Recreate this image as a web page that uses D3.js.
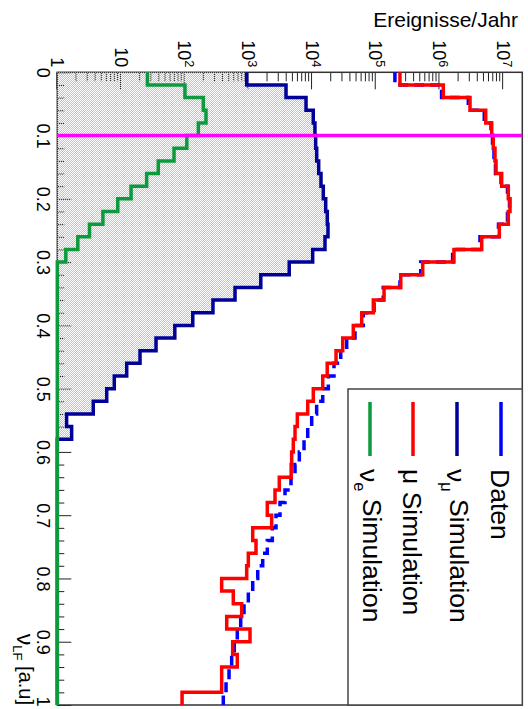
<!DOCTYPE html>
<html>
<head>
<meta charset="utf-8">
<script src="https://cdn.jsdelivr.net/npm/d3@7"></script>
<style>
  html, body { margin: 0; padding: 0; background: #fff; }
  svg { display: block; }
  text { font-family: "Liberation Sans", Arial, Helvetica, sans-serif; fill: #000; }
</style>
</head>
<body>
<svg id="chart" width="528" height="709"></svg>
<script>
// Bin edges of the v_LF histograms (50 bins of width 0.02)
const vlfEdges = [0.00, 0.02, 0.04, 0.06, 0.08, 0.10, 0.12, 0.14, 0.16, 0.18,
                  0.20, 0.22, 0.24, 0.26, 0.28, 0.30, 0.32, 0.34, 0.36, 0.38,
                  0.40, 0.42, 0.44, 0.46, 0.48, 0.50, 0.52, 0.54, 0.56, 0.58,
                  0.60, 0.62, 0.64, 0.66, 0.68, 0.70, 0.72, 0.74, 0.76, 0.78,
                  0.80, 0.82, 0.84, 0.86, 0.88, 0.90, 0.92, 0.94, 0.96, 0.98, 1.00];

// Events per year in each bin
const daten = [2.00e5, 1.08e6, 2.84e6, 5.06e6, 6.45e6, 6.81e6, 7.19e6, 7.59e6, 9.27e6, 1.17e7,
               1.26e7, 1.17e7, 8.46e6, 4.33e6, 1.61e6, 5.08e5, 2.40e5, 1.31e5, 9.40e4, 6.38e4,
               4.72e4, 3.50e4, 2.82e4, 2.21e4, 1.80e4, 1.47e4, 1.18e4, 9870, 8550, 7480,
               6310, 5400, 4670, 3760, 3140, 2715, 2377, 1983, 1679, 1402,
               1170, 998, 854, 758, 670, 601, 547, 497, 446, 404];

const numuSim = [941, 3900, 8040, 10450, 11100, 11400, 11830, 12710, 13810, 15020,
                 16380, 17350, 17790, 15960, 10230, 4380, 1567, 617, 278, 134,
                 70, 35.5, 19.9, 12.3, 7.85, 5.97, 3.67, 1.4, 1.68, 0,
                 0, 0, 0, 0, 0, 0, 0, 0, 0, 0,
                 0, 0, 0, 0, 0, 0, 0, 0, 0, 0];

const muSim = [2.40e5, 1.15e6, 3.02e6, 5.33e6, 6.62e6, 7.00e6, 7.45e6, 7.73e6, 9.49e6, 1.205e7,
               1.282e7, 1.205e7, 8.71e6, 4.61e6, 1.69e6, 5.46e5, 2.47e5, 1.35e5, 9.16e4, 6.02e4,
               4.44e4, 3.03e4, 2.38e4, 1.73e4, 1.47e4, 1.046e4, 8550, 5870, 5400, 5075,
               4785, 4700, 3060, 2620, 1983, 2323, 1170, 1318, 998, 941,
               381, 580, 785, 457, 1061, 567, 670, 381, 381, 91];

const nueSim = [26, 101, 196, 216, 164, 108, 68, 38.5, 25.3, 14.4,
                8.9, 5.2, 3.2, 2.1, 1.36, 0, 0, 0, 0, 0,
                0, 0, 0, 0, 0, 0, 0, 0, 0, 0,
                0, 0, 0, 0, 0, 0, 0, 0, 0, 0,
                0, 0, 0, 0, 0, 0, 0, 0, 0, 0];

const cutValue = 0.1;

// Axis ticks and labels
const xMajorTicks = [0, 0.1, 0.2, 0.3, 0.4, 0.5, 0.6, 0.7, 0.8, 0.9, 1];
const xTickLabels = ["0", "0.1", "0.2", "0.3", "0.4", "0.5", "0.6", "0.7", "0.8", "0.9", "1"];
const yMajorTicks = [1, 1e1, 1e2, 1e3, 1e4, 1e5, 1e6, 1e7];
const yTickBase = ["1", "10", "10", "10", "10", "10", "10", "10"];
const yTickExp  = ["", "", "2", "3", "4", "5", "6", "7"];

const legendEntries = [
  { name: "Daten", sub: "", rest: "", color: "#0000ff" },
  { name: "\u03bd", sub: "\u03bc", rest: " Simulation", color: "#000099" },
  { name: "\u03bc Simulation", sub: "", rest: "", color: "#ff0000" },
  { name: "\u03bd", sub: "e", rest: " Simulation", color: "#0d9a3c" }
];

// ---- drawing ----
const W = 528;
const frame = { u0: 72.3, u1: 705, v0: 5.7, v1: 470.7 };

const svg = d3.select("#chart");
const defs = svg.append("defs");
const pat = defs.append("pattern").attr("id", "dots")
  .attr("patternUnits", "userSpaceOnUse").attr("width", 2).attr("height", 2);
pat.append("rect").attr("x", 0).attr("y", 0).attr("width", 1).attr("height", 1).attr("fill", "#c2c2c2");
pat.append("rect").attr("x", 1).attr("y", 1).attr("width", 1).attr("height", 1).attr("fill", "#c2c2c2");

// The plot is laid out landscape and turned a quarter turn clockwise.
const g = svg.append("g").attr("transform", `translate(${W},0) rotate(90)`);

const x = d3.scaleLinear().domain([0, 1]).range([frame.u0, frame.u1]);
const y = d3.scaleLog().domain([1, 2e7]).range([frame.v1, frame.v0]);

// minor ticks
const xMinorTicks = vlfEdges.filter((d, i) => i % 5 !== 0);
const yMinorTicks = [];
yMajorTicks.forEach(p => { for (let m = 2; m <= 9; m++) { if (p * m < 2e7) yMinorTicks.push(p * m); } });

const tickColor = "#222";

const xMinor = g.append("g").attr("transform", `translate(0,${frame.v1})`)
  .call(d3.axisBottom(x).tickValues(xMinorTicks).tickSize(-7).tickFormat(""));
const xMajor = g.append("g").attr("transform", `translate(0,${frame.v1})`)
  .call(d3.axisBottom(x).tickValues(xMajorTicks).tickSize(-14).tickPadding(8)
        .tickFormat((d, i) => xTickLabels[i]));
const yMinor = g.append("g").attr("transform", `translate(${frame.u0},0)`)
  .call(d3.axisLeft(y).tickValues(yMinorTicks).tickSize(-9).tickFormat(""));
const yMajor = g.append("g").attr("transform", `translate(${frame.u0},0)`)
  .call(d3.axisLeft(y).tickValues(yMajorTicks).tickSize(-17).tickPadding(5).tickFormat(() => ""));

[xMinor, xMajor, yMinor, yMajor].forEach(a => {
  a.select(".domain").remove();
  a.selectAll(".tick line").attr("stroke", tickColor).attr("stroke-width", 1);
});
xMajor.selectAll(".tick text").attr("font-size", 18).attr("fill", "#000")
  .attr("dx", d => (d === 1 ? -4 : 0));
yMajor.selectAll(".tick text").attr("font-size", 18).attr("fill", "#000")
  .each(function (d, i) {
    const t = d3.select(this);
    t.text(null);
    t.append("tspan").text(yTickBase[i]);
    if (yTickExp[i]) t.append("tspan").attr("dy", "-0.5em").attr("font-size", "0.7em").text(yTickExp[i]);
  });

// frame
g.append("rect")
  .attr("x", frame.u0).attr("y", frame.v0)
  .attr("width", frame.u1 - frame.u0).attr("height", frame.v1 - frame.v0)
  .attr("fill", "none").attr("stroke", "#333").attr("stroke-width", 1.5);

// histogram helpers
function stepPoints(vals) {
  const pts = [];
  vals.forEach((v, i) => {
    const c = Math.max(v, 1);
    pts.push([vlfEdges[i], c], [vlfEdges[i + 1], c]);
  });
  return pts;
}
const histLine = d3.line().x(d => x(d[0])).y(d => y(d[1]));
const histArea = d3.area().x(d => x(d[0])).y0(y(1)).y1(d => y(d[1]));

// nu_mu fill
g.append("path").attr("d", histArea(stepPoints(numuSim))).attr("fill", "url(#dots)");

// Daten (dashed)
g.append("path").attr("d", histLine(stepPoints(daten)))
  .attr("fill", "none").attr("stroke", "#0000ff").attr("stroke-width", 3.5)
  .attr("stroke-dasharray", "10,6");
// mu simulation
g.append("path").attr("d", histLine(stepPoints(muSim)))
  .attr("fill", "none").attr("stroke", "#ff0000").attr("stroke-width", 3.5);
// nu_mu simulation
g.append("path").attr("d", histLine(stepPoints(numuSim)))
  .attr("fill", "none").attr("stroke", "#000099").attr("stroke-width", 3.5);
// nu_e simulation
g.append("path").attr("d", histLine(stepPoints(nueSim)))
  .attr("fill", "none").attr("stroke", "#0d9a3c").attr("stroke-width", 3.5);

// cut line
g.append("line")
  .attr("x1", x(cutValue)).attr("x2", x(cutValue))
  .attr("y1", frame.v1).attr("y2", frame.v0)
  .attr("stroke", "#ff00ff").attr("stroke-width", 3.5);

// axis title (v_LF)
const xt = g.append("text").attr("x", frame.u1).attr("y", 511)
  .attr("text-anchor", "end").attr("font-size", 20);
xt.append("tspan").attr("font-size", "1.15em").text("\u03bd");
xt.append("tspan").attr("dy", "0.3em").attr("font-size", "0.65em").text("LF");
xt.append("tspan").attr("dy", "-0.3em").text(" [a.u]");

// legend
const leg = g.append("g");
leg.append("rect").attr("x", 389).attr("y", frame.v0)
  .attr("width", frame.u1 - 389).attr("height", 180 - frame.v0)
  .attr("fill", "#fff").attr("stroke", "#444").attr("stroke-width", 1.5);
const legV = [27, 71, 115, 158];
legendEntries.forEach((e, i) => {
  leg.append("line").attr("x1", 402).attr("x2", 456)
    .attr("y1", legV[i]).attr("y2", legV[i])
    .attr("stroke", e.color).attr("stroke-width", 3.5);
  const t = leg.append("text").attr("x", 469).attr("y", legV[i] + 10.5).attr("font-size", 26.5);
  t.append("tspan").text(e.name);
  if (e.sub) {
    t.append("tspan").attr("dy", "0.35em").attr("font-size", "0.62em").text(e.sub);
    t.append("tspan").attr("dy", "-0.35em").text(e.rest);
  }
});

// y axis title
svg.append("text").attr("x", 518).attr("y", 27)
  .attr("text-anchor", "end").attr("font-size", 21).text("Ereignisse/Jahr");
</script>
</body>
</html>
